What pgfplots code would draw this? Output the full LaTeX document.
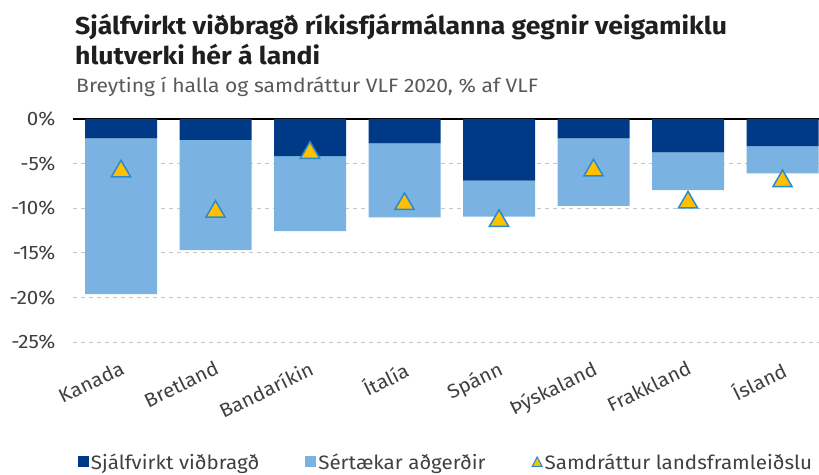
\documentclass[border=0pt]{standalone}
\usepackage{pgfplots}
\pgfplotsset{compat=1.18}
\usepackage{fontspec}
\setmainfont{Fira Sans}[FakeStretch=1.06]
\newfontfamily\titlefont{Fira Sans}[FakeStretch=1.09]
\newfontfamily\subfont{Fira Sans}[FakeStretch=1.085]
\definecolor{darkb}{HTML}{003A87}
\definecolor{lightb}{HTML}{7AB3E1}
\definecolor{tri}{HTML}{FFC000}
\definecolor{triedge}{HTML}{2A8AD0}
\definecolor{txt}{HTML}{404040}
\begin{document}
\begin{tikzpicture}
\path[use as bounding box] (0,0) rectangle (819bp,475bp);
\node[anchor=base west, inner sep=0, text=black!88] at (75bp,440bp) {\titlefont\fontsize{24.5}{27}\selectfont\bfseries Sjálfvirkt viðbragð ríkisfjármálanna gegnir veigamiklu};
\node[anchor=base west, inner sep=0, text=black!88] at (75bp,410bp) {\titlefont\fontsize{24.5}{27}\selectfont\bfseries hlutverki hér á landi};
\node[anchor=base west, inner sep=0, text=black!65] at (76bp,382bp) {\subfont\fontsize{19.5}{22}\selectfont Breyting í halla og samdráttur VLF 2020, \% af VLF};
\begin{axis}[
  at={(73bp,133bp)}, anchor=south west,
  scale only axis, width=746bp, height=223bp,
  xmin=-0.508, xmax=7.386, ymin=-25, ymax=0,
  ybar stacked, bar width=72bp,
  axis line style={draw=none}, tick style={draw=none},
  ytick={0,-5,-10,-15,-20,-25},
  yticklabel={\pgfmathprintnumber{\tick}\%},
  /pgf/number format/assume math mode=true,
  yticklabel style={font=\fontsize{19.5}{22}\selectfont, text=txt, xshift=-14bp},
  ymajorgrids, grid style={dash pattern=on 4bp off 4bp, black!22, line width=0.8bp},
  xtick={0,1,2,3,4,5,6,7},
  xticklabels={Kanada,Bretland,Bandaríkin,Ítalía,Spánn,Þýskaland,Frakkland,Ísland},
  xticklabel style={font=\fontsize{19.5}{22}\selectfont, text=txt, rotate=26, anchor=north east, yshift=-12bp, xshift=-6bp},
  legend columns=3,
  legend style={at={(0.5,-0.538)}, anchor=center, draw=none, fill=none,
    font=\fontsize{19.5}{22}\selectfont, text=txt, inner sep=0pt,
    nodes={inner xsep=2bp},
    /tikz/every even column/.append style={column sep=44bp}},
  legend cell align=left,
]
\addplot[fill=darkb, draw=none, legend image code/.code={\fill[darkb] (0bp,-5.5bp) rectangle (11bp,5.5bp);}] coordinates {(0,-2.16) (1,-2.35) (2,-4.15) (3,-2.72) (4,-6.92) (5,-2.16) (6,-3.73) (7,-3.03)};
\addlegendentry{Sjálfvirkt viðbragð}
\addplot[fill=lightb, draw=none, legend image code/.code={\fill[lightb] (0bp,-5.5bp) rectangle (11bp,5.5bp);}] coordinates {(0,-17.46) (1,-12.34) (2,-8.41) (3,-8.30) (4,-4.03) (5,-7.59) (6,-4.23) (7,-3.06)};
\addlegendentry{Sértækar aðgerðir}
\addlegendimage{legend image code/.code={\draw[fill=tri, draw=triedge, line width=1bp] (0.5bp,-4.5bp) -- (10.5bp,-4.5bp) -- (5.5bp,5bp) -- cycle;}}
\addlegendentry{Samdráttur landsframleiðslu}
\draw[black, line width=1.5bp] (axis cs:-0.508,0) -- (axis cs:7.386,0);
\end{axis}
\begin{axis}[
  at={(73bp,133bp)}, anchor=south west,
  scale only axis, width=746bp, height=223bp,
  xmin=-0.508, xmax=7.386, ymin=-25, ymax=0,
  hide axis, clip=false,
]
\addplot[only marks, mark=triangle*, mark size=11bp, mark options={fill=tri, draw=triedge, line width=1.5bp, yshift=-2.75bp}] coordinates {(0,-5.55) (1,-10.07) (2,-3.48) (3,-9.21) (4,-11.10) (5,-5.44) (6,-9.04) (7,-6.65)};
\end{axis}
\end{tikzpicture}
\end{document}
